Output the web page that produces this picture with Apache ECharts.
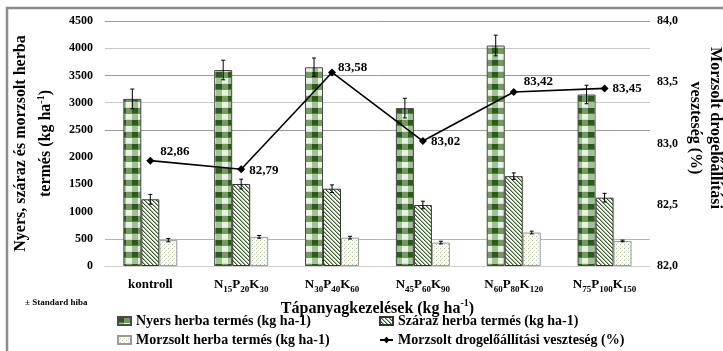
<!DOCTYPE html>
<html>
<head>
<meta charset="utf-8">
<script src="https://cdn.jsdelivr.net/npm/echarts@6/dist/echarts.min.js"></script>
<style>
html,body{margin:0;padding:0;background:#fff;}
#chart{width:723px;height:351px;}
</style>
</head>
<body>
<div id="chart"></div>
<script>
// ---- data ----
const categories = ['kontroll', 'N15P20K30', 'N30P40K60', 'N45P60K90', 'N60P80K120', 'N75P100K150'];
const nyers = [3070, 3600, 3650, 2900, 4050, 3150];
const nyersErr = [180, 180, 170, 180, 190, 170];
const szaraz = [1225, 1505, 1420, 1120, 1650, 1255];
const szarazErr = [90, 90, 70, 70, 60, 80];
const morzsolt = [475, 535, 520, 430, 615, 460];
const morzsoltErr = [30, 25, 25, 25, 25, 15];
const veszteseg = [82.86, 82.79, 83.58, 83.02, 83.42, 83.45];
const leftTicks = { min: 0, max: 4500, interval: 500 };
const rightTicks = { min: 82, max: 84, interval: 0.5 };

const seriesNames = [
  'Nyers herba termés (kg ha-1)',
  'Száraz herba termés (kg ha-1)',
  'Morzsolt herba termés (kg ha-1)',
  'Morzsolt drogelőállítási veszteség (%)'
];

// ---- styles ----
const FONT = "'Liberation Serif', 'Times New Roman', serif";
const BAR_W = 18;
const lineLabelOffsets = [[4, -9], [2, 1], [0, -5], [2, 1], [4, -10], [2, 0]];
const legendSpots = [[117, 314], [379, 314], [117, 333], [379, 333]];

function makeTile(w, h, draw) {
  const c = document.createElement('canvas');
  c.width = w; c.height = h;
  const ctx = c.getContext('2d');
  draw(ctx);
  return c;
}
const checkTile = makeTile(12, 12, ctx => {
  const cols = { dd: '#2c5a1d', dl: '#739b60', ld: '#a3bf95', ll: '#eaf1e6' };
  for (let r = 0; r < 2; r++) for (let k = 0; k < 2; k++) {
    const key = (r === 0 ? 'd' : 'l') + (k === 0 ? 'd' : 'l');
    ctx.fillStyle = cols[key];
    ctx.fillRect(k * 6, r * 6, 6, 6);
  }
  ctx.fillStyle = '#55803f';
  ctx.fillRect(0, 5, 6, 1);
  ctx.fillStyle = '#d5e3cd';
  ctx.fillRect(6, 11, 6, 1);
});
const hatchTile = makeTile(4, 4, ctx => {
  ctx.fillStyle = '#ffffff';
  ctx.fillRect(0, 0, 4, 4);
  for (let x = 0; x < 4; x++) for (let y = 0; y < 4; y++) {
    const m = ((x - y) % 4 + 4) % 4;
    if (m === 0) { ctx.fillStyle = '#355f25'; ctx.fillRect(x, y, 1, 1); }
    else if (m === 1) { ctx.fillStyle = '#9bb88c'; ctx.fillRect(x, y, 1, 1); }
  }
});
const dotTile = makeTile(4, 4, ctx => {
  ctx.fillStyle = '#fbfdf9';
  ctx.fillRect(0, 0, 4, 4);
  ctx.fillStyle = '#a9c497';
  ctx.fillRect(0, 0, 1, 1);
  ctx.fillStyle = '#c8dcbc';
  ctx.fillRect(2, 2, 1, 1);
  ctx.fillStyle = '#e2ecdb';
  ctx.fillRect(1, 3, 1, 1);
});

function errSeries(values, errs, slot) {
  return {
    type: 'custom',
    xAxisIndex: 0, yAxisIndex: 0,
    z: 5,
    silent: true,
    data: values.map((v, i) => [i, v, errs[i]]),
    encode: { x: 0, y: 1 },
    renderItem: function (params, api) {
      const i = api.value(0), v = api.value(1), e = api.value(2);
      const off = (slot - 1) * BAR_W;
      const top = api.coord([i, v + e]);
      const bot = api.coord([i, v - e]);
      const x = top[0] + off;
      const cap = 2;
      const st = { stroke: '#000', lineWidth: 1 };
      return {
        type: 'group',
        children: [
          { type: 'line', shape: { x1: x, y1: top[1], x2: x, y2: bot[1] }, style: st },
          { type: 'line', shape: { x1: x - cap, y1: top[1], x2: x + cap, y2: top[1] }, style: st },
          { type: 'line', shape: { x1: x - cap, y1: bot[1], x2: x + cap, y2: bot[1] }, style: st }
        ]
      };
    }
  };
}

const legendText = { fontFamily: FONT, fontWeight: 'bold', fontSize: 14, color: '#000' };
const legends = seriesNames.map((n, i) => ({
  orient: 'horizontal',
  left: legendSpots[i][0], top: legendSpots[i][1],
  itemWidth: 13, itemHeight: 8, padding: 0,
  textStyle: legendText,
  data: [i < 3 ? { name: n, icon: 'rect' } : { name: n }]
}));

const supStyle = { fontFamily: FONT, fontWeight: 'bold', fontSize: 10, lineHeight: 10, verticalAlign: 'top', color: '#000' };

const chart = echarts.init(document.getElementById('chart'), null, { renderer: 'canvas' });

const option = {
  backgroundColor: '#ffffff',
  animation: false,
  textStyle: { fontFamily: FONT },
  grid: { left: 100, right: 73, top: 21, bottom: 85, containLabel: false },
  legend: legends,
  xAxis: {
    type: 'category',
    data: categories,
    axisTick: { show: false },
    axisLine: { lineStyle: { color: '#d0d0d0', width: 1 } },
    axisLabel: {
      interval: 0,
      margin: 10,
      color: '#000',
      fontFamily: FONT, fontWeight: 'bold', fontSize: 13, lineHeight: 18,
      formatter: s => s.replace(/(\d+)/g, '{s|$1}'),
      rich: {
        s: { fontFamily: FONT, fontWeight: 'bold', fontSize: 9, lineHeight: 10, verticalAlign: 'bottom', color: '#000' }
      }
    },
    name: 'Tápanyagkezelések (kg ha{sup|-1})',
    nameLocation: 'middle',
    nameGap: 23,
    nameTextStyle: {
      color: '#000', fontFamily: FONT, fontWeight: 'bold', fontSize: 16, lineHeight: 20,
      rich: { sup: supStyle }
    }
  },
  yAxis: [
    {
      type: 'value',
      min: leftTicks.min, max: leftTicks.max, interval: leftTicks.interval,
      axisLine: { show: false }, axisTick: { show: false },
      axisLabel: { margin: 12, color: '#000', fontFamily: FONT, fontWeight: 'bold', fontSize: 12, formatter: v => String(v) },
      splitLine: {
        show: true,
        lineStyle: { width: 1, color: ['#dddddd', '#b5b5b5', 'rgba(0,0,0,0)', 'rgba(0,0,0,0)', 'rgba(0,0,0,0)', '#9a9a9a', '#c8c8c8', '#9a9a9a', '#c8c8c8', '#9a9a9a'] }
      },
      name: 'Nyers, száraz és morzsolt herba\ntermés (kg ha{sup|-1})',
      nameLocation: 'middle',
      nameRotate: 90,
      nameGap: 40,
      nameTextStyle: {
        color: '#000', fontFamily: FONT, fontWeight: 'bold', fontSize: 16, lineHeight: 25, align: 'center',
        rich: { sup: Object.assign({}, supStyle, { padding: [3, 0, 0, 0] }) }
      }
    },
    {
      type: 'value',
      position: 'right',
      min: rightTicks.min, max: rightTicks.max, interval: rightTicks.interval,
      axisLine: { show: false }, axisTick: { show: false },
      splitLine: { show: false },
      axisLabel: {
        margin: 7, color: '#000', fontFamily: FONT, fontWeight: 'bold', fontSize: 12,
        formatter: v => v.toFixed(1).replace('.', ',')
      }
    }
  ],
  graphic: [
    {
      type: 'rect', silent: true, z: -1,
      shape: { x: 7, y: 8, width: 740, height: 370 },
      style: { fill: 'none', stroke: '#8c8c8c', lineWidth: 2.5 }
    },
    {
      type: 'text', left: 25, top: 298, silent: true,
      style: { text: '± Standard hiba', fontFamily: FONT, fontWeight: 'bold', fontSize: 9, fill: '#000' }
    },
    {
      type: 'text', x: 705, y: 128, rotation: -Math.PI / 2, silent: true,
      style: {
        text: 'Morzsolt drogelőállítási\nveszteség (%)',
        fontFamily: FONT, fontWeight: 'bold', fontSize: 16, lineHeight: 20,
        align: 'center', verticalAlign: 'middle', fill: '#000'
      }
    }
  ],
  series: [
    {
      name: seriesNames[0], type: 'bar', barWidth: BAR_W, barGap: '0%',
      data: nyers,
      itemStyle: { color: { image: checkTile, repeat: 'repeat' }, borderColor: '#4a4a4a', borderWidth: 1 }
    },
    {
      name: seriesNames[1], type: 'bar', barWidth: BAR_W, barGap: '0%',
      data: szaraz,
      itemStyle: { color: { image: hatchTile, repeat: 'repeat' }, borderColor: '#333', borderWidth: 1 }
    },
    {
      name: seriesNames[2], type: 'bar', barWidth: BAR_W, barGap: '0%',
      data: morzsolt,
      itemStyle: { color: { image: dotTile, repeat: 'repeat' }, borderColor: '#9a9a9a', borderWidth: 1 }
    },
    errSeries(nyers, nyersErr, 0),
    errSeries(szaraz, szarazErr, 1),
    errSeries(morzsolt, morzsoltErr, 2),
    {
      name: seriesNames[3], type: 'line', yAxisIndex: 1, z: 10,
      data: veszteseg.map((v, i) => ({
        value: v,
        label: { offset: lineLabelOffsets[i] }
      })),
      symbol: 'diamond', symbolSize: 8,
      itemStyle: { color: '#000' },
      lineStyle: { color: '#000', width: 1.6 },
      label: {
        show: true, position: 'right', distance: 2,
        color: '#000', fontFamily: FONT, fontWeight: 'bold', fontSize: 13,
        formatter: p => p.value.toFixed(2).replace('.', ',')
      }
    }
  ]
};
chart.setOption(option);
</script>
</body>
</html>
